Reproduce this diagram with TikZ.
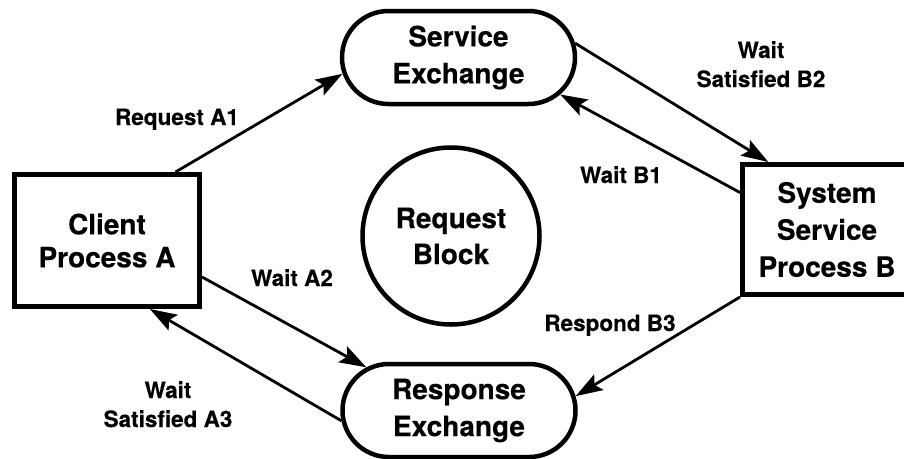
\documentclass[tikz,border=0pt]{standalone}
\usepackage{fontspec}
\setmainfont{TeX Gyre Heros}[BoldFeatures={FakeBold=0.3}]
\usetikzlibrary{shapes.misc,arrows.meta}

\tikzset{
  boxfont/.style={font=\fontsize{28}{36}\selectfont\bfseries},
  procbox/.style={draw, rectangle, line width=5pt, inner sep=0pt,
    align=center, boxfont},
  exchange/.style={draw, rounded rectangle, line width=4.5pt, inner sep=0pt,
    minimum width=233pt, minimum height=93pt, align=center,
    font=\fontsize{28}{37}\selectfont\bfseries},
  reqblock/.style={draw, circle, line width=4.5pt, inner sep=0pt,
    minimum size=177pt, align=center, boxfont},
  flow/.style={line width=2.8pt, -{Stealth[length=27pt,width=18pt,inset=5pt]}},
  lbl/.style={font=\fontsize{22.5}{29}\selectfont\bfseries, align=center,
    anchor=base, inner sep=0pt}
}

\begin{document}
\begin{tikzpicture}[x=1pt, y=-1pt]
  % page frame
  \fill[white] (0,0) rectangle (904,458);
  \useasboundingbox (0,0) rectangle (904,458);

  % processes, exchanges and the request block
  \node[procbox, minimum width=185pt, minimum height=132pt,
    font=\fontsize{28}{33}\selectfont\bfseries] (cli) at (107,240.5)
    {Client\\Process A};
  \node[procbox, minimum width=169pt, minimum height=130pt,
    font=\fontsize{28}{37}\selectfont\bfseries] (sys) at (827,229.5)
    {System\\Service\\Process B};
  \node[exchange] (svc) at (458.5,57.5) {Service\\Exchange};
  \node[exchange] (resp) at (459,410.5) {Response\\Exchange};
  \node[reqblock] (blk) at (451,236) {Request\\Block};

  % message flows
  \draw[flow] (cli.45) -- (svc.188);
  \draw[flow] (svc.7) -- (sys.131);
  \draw[flow] (sys.157) -- (svc.340);
  \draw[flow] (cli.339) -- (resp.155);
  \draw[flow] (resp.185) -- (cli.302);
  \draw[flow] (sys.south west) -- (resp.7);

  % flow labels (base anchor sits on the last line)
  \node[lbl] (lA1) at (177,125) {Request A1};
  \node[lbl] (lB2) at (761,87) {Wait\\Satisfied B2};
  \node[lbl] (lB1) at (621,183) {Wait B1};
  \node[lbl] (lA2) at (292,286) {Wait A2};
  \node[lbl] (lA3) at (168,427) {Wait\\Satisfied A3};
  \node[lbl] (lB3) at (610,331) {Respond B3};
\end{tikzpicture}
\end{document}
